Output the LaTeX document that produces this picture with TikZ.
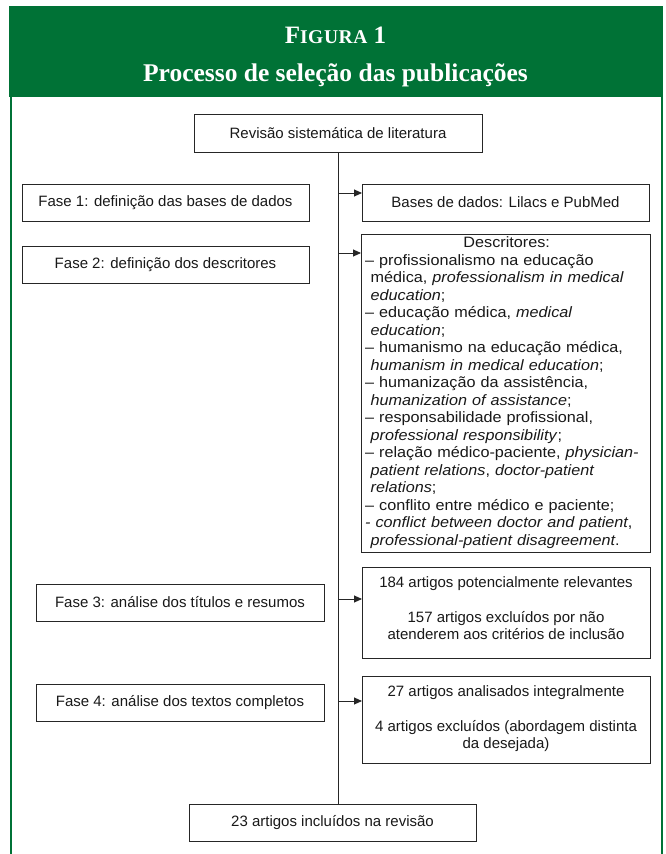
\documentclass[tikz,border=0pt]{standalone}
\usepackage{fontspec}
\setmainfont{Liberation Sans}
\newfontfamily\titlefont{Liberation Serif}
\newfontfamily\descfont[FakeStretch=1.08]{Liberation Sans}
\usetikzlibrary{arrows.meta}
\definecolor{hdrgreen}{RGB}{0,114,54}
\begin{document}
\begin{tikzpicture}[x=1pt,y=-1pt,
  box/.style={draw=black!85, line width=0.9pt, inner sep=0pt, align=center,
    font=\fontsize{15}{17.5}\selectfont, text=black!90},
  txt/.style={inner sep=0pt, font=\fontsize{15}{17.5}\selectfont, text=black!90},
  arr/.style={draw=black!85, line width=0.9pt, -{Triangle[length=8pt,width=7pt]}},
  ttl/.style={text=white, inner sep=0pt, anchor=base}
  ]
\useasboundingbox (0,0) rectangle (665,854);
\fill[white] (0,0) rectangle (665,854);
% header
\node[fill=hdrgreen, minimum width=654, minimum height=91, anchor=north west, inner sep=0pt] (hdr) at (9,6) {};
\coordinate (bl) at (11,854);
\coordinate (br) at (662,854);
\draw[hdrgreen, line width=1.2pt] (hdr.south west -| bl) -- (bl);
\draw[hdrgreen, line width=1.2pt] (hdr.south east -| br) -- (br);
\node[ttl, font=\titlefont\bfseries\fontsize{25}{25}\selectfont] (fig) at (335.5,43)
  {F{\fontsize{19.5}{20}\selectfont I\kern0.6pt G\kern0.6pt U\kern0.6pt R\kern0.6pt A} 1};
\node[ttl, font=\titlefont\bfseries\fontsize{25.5}{25}\selectfont] (title) at (335.5,81)
  {Processo de seleção das publicações};
% boxes
\node[box, minimum width=288, minimum height=38] (rev) at (338,133) {Revisão sistemática de literatura};
\node[box, minimum width=287, minimum height=37] (f1) at (165.5,202.5) {Fase 1: definição das bases de dados};
\node[box, minimum width=287, minimum height=37] (bases) at (505.5,202.5) {Bases de dados: Lilacs e PubMed};
\node[box, minimum width=287, minimum height=37] (f2) at (165.5,264.5) {Fase 2: definição dos descritores};
\node[box, minimum width=289, minimum height=318, anchor=north west] (desc) at (361,234) {};
\node[txt, anchor=north west, text width=283, align=left,
  font=\descfont\fontsize{15}{17.5}\selectfont] (desct) at (365,235.5) {%
\makebox[\linewidth]{\strut Descritores:}\\
– profissionalismo na educação\\
\hspace*{5.5pt}médica, \textit{professionalism in medical}\\
\hspace*{5.5pt}\textit{education};\\
– educação médica, \textit{medical}\\
\hspace*{5.5pt}\textit{education};\\
– humanismo na educação médica,\\
\hspace*{5.5pt}\textit{humanism in medical education};\\
– humanização da assistência,\\
\hspace*{5.5pt}\textit{humanization of assistance};\\
– responsabilidade profissional,\\
\hspace*{5.5pt}\textit{professional responsibility};\\
– relação médico-paciente, \textit{physician-}\\
\hspace*{5.5pt}\textit{patient relations}, \textit{doctor-patient}\\
\hspace*{5.5pt}\textit{relations};\\
– conflito entre médico e paciente;\\
\textit{- conflict between doctor and patient},\\
\hspace*{5.5pt}\textit{professional-patient disagreement}.};
\node[box, minimum width=288, minimum height=37] (f3) at (180,602.5) {Fase 3: análise dos títulos e resumos};
\node[box, minimum width=288, minimum height=91, anchor=north west] (r3) at (362,567) {};
\node[txt, anchor=north, align=center] (r3t) at (506,574.8) {%
\strut 184 artigos potencialmente relevantes\\[17.5pt]
157 artigos excluídos por não\\
atenderem aos critérios de inclusão};
\node[box, minimum width=288, minimum height=37] (f4) at (180,702.5) {Fase 4: análise dos textos completos};
\node[box, minimum width=288, minimum height=87, anchor=north west] (r4) at (362,676) {};
\node[txt, anchor=north, align=center] (r4t) at (506,683.8) {%
\strut 27 artigos analisados integralmente\\[17.5pt]
4 artigos excluídos (abordagem distinta\\
da desejada)};
\node[box, minimum width=287, minimum height=37] (fin) at (332.5,822.5) {23 artigos incluídos na revisão};
% connectors
\draw[draw=black!85, line width=0.9pt] (rev.south) -- (rev.south |- fin.north);
\coordinate (p1) at (362,193);
\coordinate (p2) at (361,253);
\coordinate (p3) at (362,599);
\coordinate (p4) at (362,701);
\foreach \p in {p1,p2,p3,p4}
  \draw[arr] (rev.south |- \p) -- (\p);
\end{tikzpicture}
\end{document}
